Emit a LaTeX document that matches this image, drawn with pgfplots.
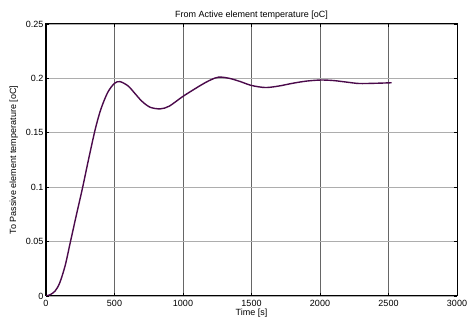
\documentclass[border=0pt]{standalone}
\usepackage{pgfplots}
\pgfplotsset{compat=1.18}
\usepackage{fontspec}
\setmainfont{Liberation Sans}
\definecolor{curve}{RGB}{75,10,75}
\begin{document}
\begin{tikzpicture}
\path[use as bounding box] (-46pt,-27pt) rectangle (422pt,296pt);
\begin{axis}[
  at={(0pt,0pt)}, anchor=south west,
  scale only axis, width=411pt, height=272pt,
  xmin=0, xmax=3000, ymin=0, ymax=0.25,
  xtick={0,500,...,3000},
  ytick={0,0.05,0.1,0.15,0.2,0.25},
  yticklabels={0,0.05,0.1,0.15,0.2,0.25},
  xticklabels={0,500,1000,1500,2000,2500,3000},
  tick align=inside, tick pos=both,
  major tick length=3pt,
  xmajorgrids, ymajorgrids,
  x grid style={color=black!60, line width=0.6pt},
  y grid style={color=black!32, line width=0.9pt},
  axis line style={line width=1pt},
  tick style={black, line width=0.6pt},
  ticklabel style={font=\fontsize{9}{10}\selectfont},
  xticklabel style={yshift=-0.5pt},
  yticklabel style={xshift=1pt},
  label style={font=\fontsize{9}{10}\selectfont},
  title style={font=\fontsize{9}{10}\selectfont, yshift=-5pt},
  title={From Active element temperature [oC]},
  xlabel={Time [s]},
  ylabel={To Passive element temperature [oC]},
  xlabel style={yshift=4pt},
  ylabel style={yshift=1pt},
]
\addplot[curve, line width=1.4pt, smooth] coordinates {
(0,0) (30,0.0012) (66,0.0045) (100,0.012) (140,0.028) (176,0.0485) (220,0.0735)
(266,0.099) (310,0.1252) (359,0.153) (400,0.1715) (450,0.187) (500,0.1955)
(541,0.197) (600,0.193) (650,0.186) (700,0.179) (760,0.1735) (834,0.172)
(900,0.1745) (1000,0.1835) (1127,0.1935) (1200,0.1985) (1261,0.2012) (1340,0.2)
(1420,0.197) (1500,0.1935) (1602,0.1916) (1700,0.193) (1800,0.1955) (1900,0.1975)
(2005,0.1985) (2100,0.198) (2200,0.1965) (2286,0.1953) (2400,0.1955) (2523,0.196)
};
\end{axis}
\end{tikzpicture}
\end{document}
